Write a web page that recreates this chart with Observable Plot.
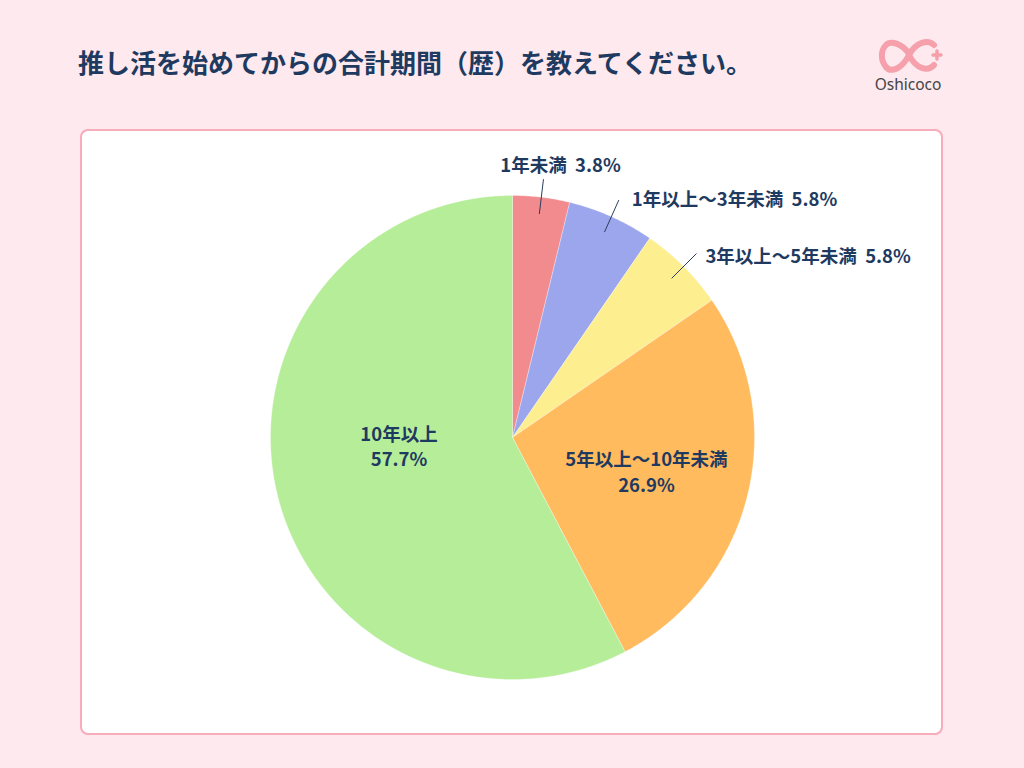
<!DOCTYPE html>
<html lang="ja">
<head>
<meta charset="utf-8">
<script src="https://cdn.jsdelivr.net/npm/d3@7"></script>
<script src="https://cdn.jsdelivr.net/npm/@observablehq/plot@0.6"></script>
<style>
  html, body { margin: 0; padding: 0; }
  body { width: 1024px; height: 768px; background: #fde9ee; position: relative; overflow: hidden;
         font-family: "Noto Sans CJK JP", "Noto Sans", sans-serif; }
  #title { position: absolute; left: 78px; top: 43px; font-size: 26px; font-weight: 700; color: #1f3a60;
           line-height: 38px; white-space: nowrap; }
  #card { position: absolute; left: 80px; top: 129px; width: 859px; height: 602px; background: #fff;
          border: 2px solid #f8abb8; border-radius: 8px; }
  #logo { position: absolute; left: 866px; top: 32px; width: 90px; height: 68px; }
  #chart { position: absolute; left: 0; top: 0; }
</style>
</head>
<body>
<div id="title">推し活を始めてからの合計期間（歴）を教えてください。</div>
<div id="logo">
  <svg width="90" height="68" viewBox="0 0 90 68">
    <g fill="none" stroke="#f5a0aa" stroke-width="6" stroke-linecap="round">
      <path d="M43,22 C37,12 25,8 20,13 C14,19 15,29 20,35 C25,41 36,37 43,23 C50,10 62,7 68,13" />
      <path d="M43,23 C50,37 62,40 68,33" />
    </g>
    <g stroke="#f5a0aa" stroke-width="3.5" stroke-linecap="round">
      <line x1="67" y1="23" x2="75" y2="23"/>
      <line x1="71" y1="19" x2="71" y2="27"/>
    </g>
    <text x="42" y="58" text-anchor="middle" font-family="Noto Sans, sans-serif" font-size="15.5" fill="#444">Oshicoco</text>
  </svg>
</div>
<div id="card"></div>
<div id="chart"></div>
<script>
// ---- data ----
const categories = ["1年未満", "1年以上〜3年未満", "3年以上〜5年未満", "5年以上〜10年未満", "10年以上"];
const shares = [3.8, 5.8, 5.8, 26.9, 57.7];
const colors = ["#f28b8e", "#9ba6ec", "#fdee90", "#ffbb5e", "#b6ed98"];

// ---- layout ----
const W = 1024, H = 768;
const cx = 512, cy = 437, R = 242;
const insideSet = new Set(["5年以上〜10年未満", "10年以上"]);
const inner = { "5年以上〜10年未満": { r: 0.57, da: 0 }, "10年以上": { r: 0.47, da: 10 } };
const outer = {
  "1年未満": { anchor: "middle", dx: 17, dy: -13 },
  "1年以上〜3年未満": { anchor: "start", dx: 13, dy: 0 },
  "3年以上〜5年未満": { anchor: "start", dx: 9, dy: 4 }
};

const table = categories.map((c, i) => ({ cat: c, share: shares[i] }));
const arcs = d3.pie().sort(null).value(d => d.share)(table);
const px = (a, r) => cx + r * Math.sin(a);
const py = (a, r) => cy - r * Math.cos(a);

// slice polygons
const poly = [];
for (const a of arcs) {
  poly.push({ cat: a.data.cat, x: cx, y: cy });
  const n = Math.max(4, Math.ceil((a.endAngle - a.startAngle) / (Math.PI / 360)));
  for (let k = 0; k <= n; k++) {
    const t = a.startAngle + (a.endAngle - a.startAngle) * k / n;
    poly.push({ cat: a.data.cat, x: px(t, R), y: py(t, R) });
  }
  poly.push({ cat: a.data.cat, x: cx, y: cy });
}

const fmt = v => v.toFixed(1) + "%";
const gap = "\u00a0\u00a0";
const insideLabels = arcs.filter(a => insideSet.has(a.data.cat)).map(a => {
  const o = inner[a.data.cat];
  const m = (a.startAngle + a.endAngle) / 2 + o.da * Math.PI / 180;
  return { x: px(m, R * o.r), y: py(m, R * o.r), text: a.data.cat + "\n" + fmt(a.data.share) };
});
const outsideArcs = arcs.filter(a => !insideSet.has(a.data.cat));
const leaders = outsideArcs.map(a => {
  const m = (a.startAngle + a.endAngle) / 2;
  return { x1: px(m, R * 0.93), y1: py(m, R * 0.93), x2: px(m, R * 1.075), y2: py(m, R * 1.075) };
});
const outsideLabels = outsideArcs.map(a => {
  const m = (a.startAngle + a.endAngle) / 2;
  const o = outer[a.data.cat];
  return { x: px(m, R * 1.075) + o.dx, y: py(m, R * 1.075) + o.dy, anchor: o.anchor,
           text: a.data.cat + gap + fmt(a.data.share) };
});

const font = "'Noto Sans CJK JP', 'Noto Sans', sans-serif";
const navy = "#1f3a60";
const fs = 18.5;

const chart = Plot.plot({
  width: W, height: H,
  margin: 0,
  style: { background: "transparent", fontFamily: font },
  x: { domain: [0, W], range: [0, W], axis: null },
  y: { domain: [0, H], range: [0, H], axis: null },
  color: { domain: categories, range: colors },
  marks: [
    Plot.line(poly, { x: "x", y: "y", z: "cat", fill: "cat", stroke: "#ffffff", strokeWidth: 0.6, strokeOpacity: 0.5, curve: "linear" }),
    Plot.link(leaders, { x1: "x1", y1: "y1", x2: "x2", y2: "y2", stroke: "#2b3f5c", strokeWidth: 1 }),
    Plot.text(insideLabels, { x: "x", y: "y", text: "text", fill: navy, fontWeight: 700, fontSize: fs, lineHeight: 1.4, textAnchor: "middle" }),
    Plot.text(outsideLabels.filter(d => d.anchor === "middle"), { x: "x", y: "y", text: "text", fill: navy, fontWeight: 700, fontSize: fs, textAnchor: "middle" }),
    Plot.text(outsideLabels.filter(d => d.anchor === "start"), { x: "x", y: "y", text: "text", fill: navy, fontWeight: 700, fontSize: fs, textAnchor: "start" })
  ]
});
document.getElementById("chart").appendChild(chart);
</script>
</body>
</html>
